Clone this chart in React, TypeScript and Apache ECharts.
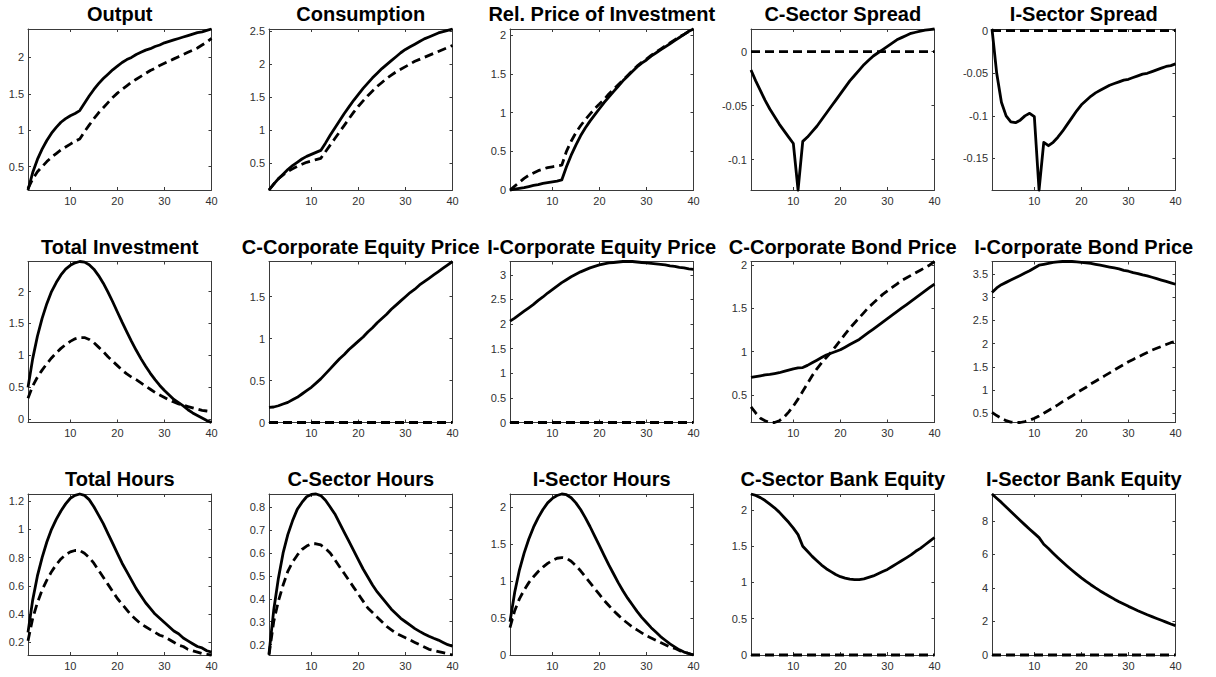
import React, { useEffect, useRef } from "react";
import * as echarts from "echarts";

// period index 1..40
const periods = Array.from({ length: 40 }, (_, i) => i + 1);
const xTicks = [10, 20, 30, 40];

const outputSolid = [0.18, 0.42, 0.6, 0.74, 0.86, 0.96, 1.04, 1.11, 1.16, 1.2, 1.23, 1.27, 1.37, 1.47, 1.56, 1.64, 1.71, 1.77, 1.83, 1.88, 1.93, 1.97, 2.0, 2.04, 2.07, 2.1, 2.12, 2.15, 2.17, 2.2, 2.22, 2.24, 2.26, 2.28, 2.3, 2.32, 2.34, 2.35, 2.37, 2.39];
const outputDashed = [0.2, 0.33, 0.43, 0.5, 0.57, 0.63, 0.68, 0.73, 0.77, 0.81, 0.85, 0.88, 0.98, 1.07, 1.16, 1.24, 1.31, 1.38, 1.45, 1.51, 1.56, 1.61, 1.66, 1.7, 1.74, 1.78, 1.82, 1.85, 1.89, 1.92, 1.95, 1.98, 2.01, 2.04, 2.07, 2.1, 2.13, 2.17, 2.21, 2.26];

const consSolid = [0.09, 0.18, 0.26, 0.33, 0.4, 0.46, 0.51, 0.56, 0.6, 0.63, 0.66, 0.69, 0.8, 0.92, 1.03, 1.14, 1.25, 1.35, 1.45, 1.54, 1.63, 1.71, 1.79, 1.86, 1.93, 1.99, 2.05, 2.11, 2.17, 2.22, 2.26, 2.3, 2.34, 2.38, 2.41, 2.44, 2.47, 2.49, 2.51, 2.53];
const consDashed = [0.09, 0.18, 0.26, 0.32, 0.37, 0.41, 0.45, 0.48, 0.51, 0.53, 0.55, 0.57, 0.67, 0.77, 0.87, 0.97, 1.07, 1.17, 1.27, 1.36, 1.44, 1.52, 1.59, 1.66, 1.72, 1.78, 1.83, 1.88, 1.92, 1.96, 2.0, 2.04, 2.07, 2.1, 2.13, 2.16, 2.19, 2.22, 2.25, 2.28];

const relPriceSolid = [0, 0.01, 0.02, 0.03, 0.045, 0.06, 0.07, 0.085, 0.095, 0.105, 0.115, 0.13, 0.3, 0.45, 0.58, 0.7, 0.8, 0.89, 0.97, 1.05, 1.13, 1.2, 1.27, 1.34, 1.41, 1.47, 1.53, 1.59, 1.64, 1.68, 1.73, 1.77, 1.81, 1.85, 1.89, 1.93, 1.97, 2.01, 2.05, 2.08];
const relPriceDashed = [0, 0.05, 0.1, 0.15, 0.19, 0.22, 0.25, 0.27, 0.29, 0.3, 0.31, 0.32, 0.5, 0.63, 0.74, 0.83, 0.91, 0.98, 1.05, 1.11, 1.17, 1.24, 1.3, 1.36, 1.42, 1.48, 1.54, 1.6, 1.65, 1.69, 1.74, 1.78, 1.82, 1.86, 1.9, 1.94, 1.98, 2.01, 2.05, 2.08];

const cSpreadSolid = [-0.017, -0.027, -0.036, -0.045, -0.053, -0.06, -0.067, -0.073, -0.079, -0.085, -0.128, -0.083, -0.079, -0.074, -0.069, -0.063, -0.057, -0.051, -0.045, -0.039, -0.033, -0.027, -0.022, -0.017, -0.012, -0.008, -0.004, -0.001, 0.002, 0.005, 0.008, 0.011, 0.013, 0.015, 0.017, 0.018, 0.019, 0.02, 0.0205, 0.021];
const cSpreadDashed = [0, 0, 0, 0, 0, 0, 0, 0, 0, 0, 0, 0, 0, 0, 0, 0, 0, 0, 0, 0, 0, 0, 0, 0, 0, 0, 0, 0, 0, 0, 0, 0, 0, 0, 0, 0, 0, 0, 0, 0];

const iSpreadSolid = [0.002, -0.05, -0.084, -0.1, -0.107, -0.108, -0.105, -0.1, -0.097, -0.101, -0.187, -0.131, -0.135, -0.131, -0.125, -0.118, -0.11, -0.102, -0.094, -0.087, -0.082, -0.077, -0.073, -0.07, -0.067, -0.064, -0.062, -0.06, -0.058, -0.057, -0.055, -0.053, -0.051, -0.05, -0.048, -0.046, -0.044, -0.042, -0.041, -0.039];
const iSpreadDashed = [0, 0, 0, 0, 0, 0, 0, 0, 0, 0, 0, 0, 0, 0, 0, 0, 0, 0, 0, 0, 0, 0, 0, 0, 0, 0, 0, 0, 0, 0, 0, 0, 0, 0, 0, 0, 0, 0, 0, 0];

const invSolid = [0.5, 0.95, 1.3, 1.58, 1.81, 2.0, 2.14, 2.26, 2.35, 2.41, 2.45, 2.47, 2.46, 2.42, 2.35, 2.25, 2.13, 1.99, 1.84, 1.68, 1.52, 1.37, 1.22, 1.08, 0.95, 0.83, 0.72, 0.62, 0.53, 0.45, 0.38, 0.31, 0.26, 0.21, 0.15, 0.1, 0.06, 0.02, -0.02, -0.05];
const invDashed = [0.33, 0.52, 0.66, 0.77, 0.87, 0.96, 1.04, 1.11, 1.17, 1.22, 1.26, 1.28, 1.28, 1.25, 1.2, 1.13, 1.06, 0.98, 0.91, 0.84, 0.77, 0.71, 0.66, 0.62, 0.57, 0.52, 0.47, 0.42, 0.38, 0.34, 0.3, 0.27, 0.24, 0.22, 0.2, 0.18, 0.16, 0.14, 0.13, 0.12];

const cEquitySolid = [0.18, 0.185, 0.2, 0.22, 0.24, 0.27, 0.3, 0.34, 0.38, 0.42, 0.47, 0.52, 0.58, 0.64, 0.7, 0.76, 0.81, 0.87, 0.92, 0.97, 1.02, 1.08, 1.13, 1.19, 1.24, 1.29, 1.35, 1.4, 1.45, 1.5, 1.55, 1.59, 1.64, 1.68, 1.72, 1.76, 1.8, 1.84, 1.88, 1.92];
const cEquityDashed = [0, 0, 0, 0, 0, 0, 0, 0, 0, 0, 0, 0, 0, 0, 0, 0, 0, 0, 0, 0, 0, 0, 0, 0, 0, 0, 0, 0, 0, 0, 0, 0, 0, 0, 0, 0, 0, 0, 0, 0];

const iEquitySolid = [2.06, 2.12, 2.19, 2.26, 2.33, 2.4, 2.48, 2.55, 2.63, 2.7, 2.77, 2.84, 2.9, 2.96, 3.01, 3.06, 3.1, 3.14, 3.17, 3.2, 3.22, 3.24, 3.25, 3.26, 3.27, 3.27, 3.27, 3.26, 3.25, 3.24, 3.23, 3.22, 3.21, 3.2, 3.18, 3.17, 3.15, 3.14, 3.12, 3.11];
const iEquityDashed = [0, 0, 0, 0, 0, 0, 0, 0, 0, 0, 0, 0, 0, 0, 0, 0, 0, 0, 0, 0, 0, 0, 0, 0, 0, 0, 0, 0, 0, 0, 0, 0, 0, 0, 0, 0, 0, 0, 0, 0];

const cBondSolid = [0.7, 0.71, 0.72, 0.73, 0.735, 0.745, 0.755, 0.77, 0.785, 0.8, 0.81, 0.815, 0.84, 0.87, 0.9, 0.93, 0.96, 0.98, 1.0, 1.02, 1.05, 1.08, 1.11, 1.14, 1.18, 1.22, 1.26, 1.3, 1.34, 1.38, 1.42, 1.46, 1.5, 1.54, 1.58, 1.62, 1.66, 1.7, 1.74, 1.78];
const cBondDashed = [0.36, 0.29, 0.23, 0.2, 0.18, 0.18, 0.2, 0.24, 0.3, 0.37, 0.45, 0.54, 0.63, 0.72, 0.8, 0.87, 0.93, 0.99, 1.06, 1.13, 1.2, 1.27, 1.33, 1.39, 1.45, 1.51, 1.56, 1.61, 1.66, 1.7, 1.74, 1.78, 1.82, 1.85, 1.88, 1.91, 1.94, 1.97, 2.0, 2.04];

const iBondSolid = [3.1, 3.2, 3.27, 3.32, 3.37, 3.42, 3.47, 3.52, 3.57, 3.63, 3.69, 3.71, 3.73, 3.75, 3.76, 3.77, 3.77, 3.77, 3.76, 3.75, 3.74, 3.73, 3.71, 3.69, 3.67, 3.65, 3.63, 3.61, 3.58, 3.56, 3.53, 3.51, 3.48, 3.46, 3.43, 3.4, 3.37, 3.34, 3.31, 3.28];
const iBondDashed = [0.52, 0.45, 0.39, 0.34, 0.31, 0.3, 0.3, 0.32, 0.35, 0.39, 0.44, 0.5, 0.56, 0.62, 0.68, 0.75, 0.81, 0.87, 0.94, 1.0, 1.06, 1.13, 1.19, 1.25, 1.31, 1.37, 1.43, 1.49, 1.55, 1.61, 1.66, 1.71, 1.76, 1.81, 1.86, 1.9, 1.94, 1.98, 2.02, 2.05];

const hoursSolid = [0.27, 0.5, 0.67, 0.8, 0.91, 1.0, 1.07, 1.13, 1.18, 1.22, 1.24, 1.25, 1.24, 1.21, 1.16, 1.1, 1.04, 0.97, 0.9, 0.83, 0.76, 0.7, 0.64, 0.58, 0.53, 0.48, 0.44, 0.4, 0.37, 0.34, 0.31, 0.28, 0.26, 0.23, 0.21, 0.19, 0.17, 0.16, 0.14, 0.13];
const hoursDashed = [0.21, 0.37, 0.48, 0.57, 0.64, 0.7, 0.75, 0.79, 0.82, 0.84, 0.85, 0.85, 0.83, 0.8, 0.76, 0.71, 0.66, 0.61, 0.56, 0.51, 0.47, 0.43, 0.39, 0.36, 0.33, 0.31, 0.29, 0.27, 0.25, 0.24, 0.22, 0.2, 0.18, 0.17, 0.15, 0.14, 0.13, 0.12, 0.115, 0.11];

const cHoursSolid = [0.16, 0.35, 0.49, 0.6, 0.68, 0.74, 0.79, 0.82, 0.845, 0.855, 0.857, 0.85, 0.83, 0.8, 0.77, 0.73, 0.69, 0.65, 0.61, 0.57, 0.53, 0.495, 0.46, 0.43, 0.405, 0.38, 0.355, 0.335, 0.315, 0.3, 0.285, 0.27, 0.258, 0.247, 0.237, 0.228, 0.22, 0.21, 0.2, 0.193];
const cHoursDashed = [0.155, 0.3, 0.39, 0.46, 0.52, 0.56, 0.59, 0.615, 0.63, 0.64, 0.64, 0.635, 0.62, 0.6, 0.57, 0.54, 0.51, 0.48, 0.45, 0.42, 0.39, 0.36, 0.34, 0.32, 0.3, 0.28, 0.265, 0.25, 0.24, 0.23, 0.22, 0.21, 0.2, 0.19, 0.18, 0.175, 0.17, 0.165, 0.16, 0.155];

const iHoursSolid = [0.45, 0.85, 1.15, 1.38, 1.57, 1.73, 1.86, 1.97, 2.06, 2.12, 2.16, 2.18, 2.17, 2.13, 2.06, 1.97, 1.86, 1.74, 1.61, 1.48, 1.35, 1.22, 1.1, 0.98, 0.87, 0.77, 0.68, 0.59, 0.51, 0.44, 0.37, 0.31, 0.25, 0.2, 0.15, 0.11, 0.07, 0.04, 0.02, 0.0];
const iHoursDashed = [0.37, 0.6, 0.76, 0.88, 0.98, 1.06, 1.13, 1.19, 1.24, 1.28, 1.31, 1.32, 1.31, 1.27, 1.21, 1.14, 1.06, 0.98, 0.9, 0.82, 0.74, 0.67, 0.6, 0.54, 0.48, 0.43, 0.38, 0.34, 0.3, 0.26, 0.23, 0.2, 0.17, 0.14, 0.11, 0.09, 0.06, 0.04, 0.02, 0.0];

const cBankSolid = [2.22, 2.2, 2.17, 2.13, 2.08, 2.03, 1.97, 1.9, 1.83, 1.75, 1.66, 1.5, 1.43, 1.36, 1.3, 1.24, 1.19, 1.15, 1.11, 1.08, 1.06, 1.045, 1.04, 1.04, 1.05, 1.07, 1.09, 1.12, 1.15, 1.18, 1.22, 1.26, 1.3, 1.34, 1.38, 1.43, 1.47, 1.52, 1.57, 1.62];
const cBankDashed = [0, 0, 0, 0, 0, 0, 0, 0, 0, 0, 0, 0, 0, 0, 0, 0, 0, 0, 0, 0, 0, 0, 0, 0, 0, 0, 0, 0, 0, 0, 0, 0, 0, 0, 0, 0, 0, 0, 0, 0];

const iBankSolid = [9.6, 9.35, 9.1, 8.83, 8.56, 8.29, 8.02, 7.76, 7.5, 7.25, 7.0, 6.6, 6.35, 6.07, 5.8, 5.54, 5.29, 5.05, 4.82, 4.6, 4.39, 4.19, 4.0, 3.82, 3.65, 3.49, 3.33, 3.18, 3.04, 2.9, 2.77, 2.64, 2.52, 2.4, 2.29, 2.18, 2.07, 1.96, 1.85, 1.75];
const iBankDashed = [0, 0, 0, 0, 0, 0, 0, 0, 0, 0, 0, 0, 0, 0, 0, 0, 0, 0, 0, 0, 0, 0, 0, 0, 0, 0, 0, 0, 0, 0, 0, 0, 0, 0, 0, 0, 0, 0, 0, 0];

const titles = [
  "Output", "Consumption", "Rel. Price of Investment", "C-Sector Spread", "I-Sector Spread",
  "Total Investment", "C-Corporate Equity Price", "I-Corporate Equity Price", "C-Corporate Bond Price", "I-Corporate Bond Price",
  "Total Hours", "C-Sector Hours", "I-Sector Hours", "C-Sector Bank Equity", "I-Sector Bank Equity",
];

const solidSeries = [outputSolid, consSolid, relPriceSolid, cSpreadSolid, iSpreadSolid, invSolid, cEquitySolid, iEquitySolid, cBondSolid, iBondSolid, hoursSolid, cHoursSolid, iHoursSolid, cBankSolid, iBankSolid];
const dashedSeries = [outputDashed, consDashed, relPriceDashed, cSpreadDashed, iSpreadDashed, invDashed, cEquityDashed, iEquityDashed, cBondDashed, iBondDashed, hoursDashed, cHoursDashed, iHoursDashed, cBankDashed, iBankDashed];

const yTicks = [
  [0.5, 1, 1.5, 2],
  [0.5, 1, 1.5, 2, 2.5],
  [0, 0.5, 1, 1.5, 2],
  [-0.1, -0.05, 0],
  [-0.15, -0.1, -0.05, 0],
  [0, 0.5, 1, 1.5, 2],
  [0, 0.5, 1, 1.5],
  [0, 0.5, 1, 1.5, 2, 2.5, 3],
  [0.5, 1, 1.5, 2],
  [0.5, 1, 1.5, 2, 2.5, 3, 3.5],
  [0.2, 0.4, 0.6, 0.8, 1, 1.2],
  [0.2, 0.3, 0.4, 0.5, 0.6, 0.7, 0.8],
  [0, 0.5, 1, 1.5, 2],
  [0, 0.5, 1, 1.5, 2],
  [0, 2, 4, 6, 8],
];

const FONT = "'Liberation Sans', Arial, Helvetica, sans-serif";
const AXIS_COLOR = "#3a3a3a";
const LABEL_COLOR = "#303030";

export default function App() {
  const ref = useRef<HTMLDivElement>(null);
  useEffect(() => {
    document.body.style.margin = "0";
    const chart = echarts.init(ref.current!, null, { renderer: "svg" });
    const grids: any[] = [];
    const xAxes: any[] = [];
    const yAxes: any[] = [];
    const series: any[] = [];
    const graphics: any[] = [];
    const colLeft = 28, colStep = 241, W = 183.5;
    const rowTop = 29, rowStep = 232.5, H = 161;
    titles.forEach((title, i) => {
      const r = Math.floor(i / 5), c = i % 5;
      const left = colLeft + c * colStep;
      const top = rowTop + r * rowStep;
      grids.push({ left, top, width: W, height: H });
      const s = solidSeries[i], d = dashedSeries[i];
      const ymin = Math.min(...s, ...d);
      const ymax = Math.max(...s, ...d);
      const line = { show: true, onZero: false, lineStyle: { color: AXIS_COLOR, width: 1 } };
      const tickX = { show: true, inside: true, length: 3, customValues: xTicks, lineStyle: { color: AXIS_COLOR } };
      const tickY = { show: true, inside: true, length: 3, customValues: yTicks[i], lineStyle: { color: AXIS_COLOR } };
      xAxes.push({
        type: "value", gridIndex: i, min: 1, max: 40, position: "bottom",
        axisLine: line, axisTick: tickX, splitLine: { show: false },
        axisLabel: { show: true, customValues: xTicks, fontSize: 11, color: LABEL_COLOR, fontFamily: FONT, margin: 5 },
      });
      xAxes.push({
        type: "value", gridIndex: i, min: 1, max: 40, position: "top",
        axisLine: line, axisTick: tickX, splitLine: { show: false }, axisLabel: { show: false },
      });
      yAxes.push({
        type: "value", gridIndex: i, min: ymin, max: ymax, position: "left",
        axisLine: line, axisTick: tickY, splitLine: { show: false },
        axisLabel: { show: true, customValues: yTicks[i], fontSize: 11, color: LABEL_COLOR, fontFamily: FONT, margin: 4 },
      });
      yAxes.push({
        type: "value", gridIndex: i, min: ymin, max: ymax, position: "right",
        axisLine: line, axisTick: tickY, splitLine: { show: false }, axisLabel: { show: false },
      });
      series.push({
        type: "line", xAxisIndex: 2 * i, yAxisIndex: 2 * i, showSymbol: false, symbol: "none", clip: false,
        data: periods.map((t, k) => [t, s[k]]),
        lineStyle: { color: "#000", width: 2.8, join: "round", cap: "butt" },
      });
      series.push({
        type: "line", xAxisIndex: 2 * i, yAxisIndex: 2 * i, showSymbol: false, symbol: "none", clip: false,
        data: periods.map((t, k) => [t, d[k]]),
        lineStyle: { color: "#000", width: 2.8, type: [9, 5], cap: "butt" },
      });
      graphics.push({
        type: "text", x: left + W / 2, y: top - 15,
        style: { text: title, fill: "#000", font: `bold 20px ${FONT}`, textAlign: "center", textVerticalAlign: "middle", verticalAlign: "middle" },
      });
    });
    chart.setOption({
      animation: false,
      backgroundColor: "#fff",
      grid: grids,
      xAxis: xAxes,
      yAxis: yAxes,
      series,
      graphic: graphics,
    });
    return () => chart.dispose();
  }, []);
  return <div ref={ref} style={{ width: 1216, height: 677 }} />;
}
